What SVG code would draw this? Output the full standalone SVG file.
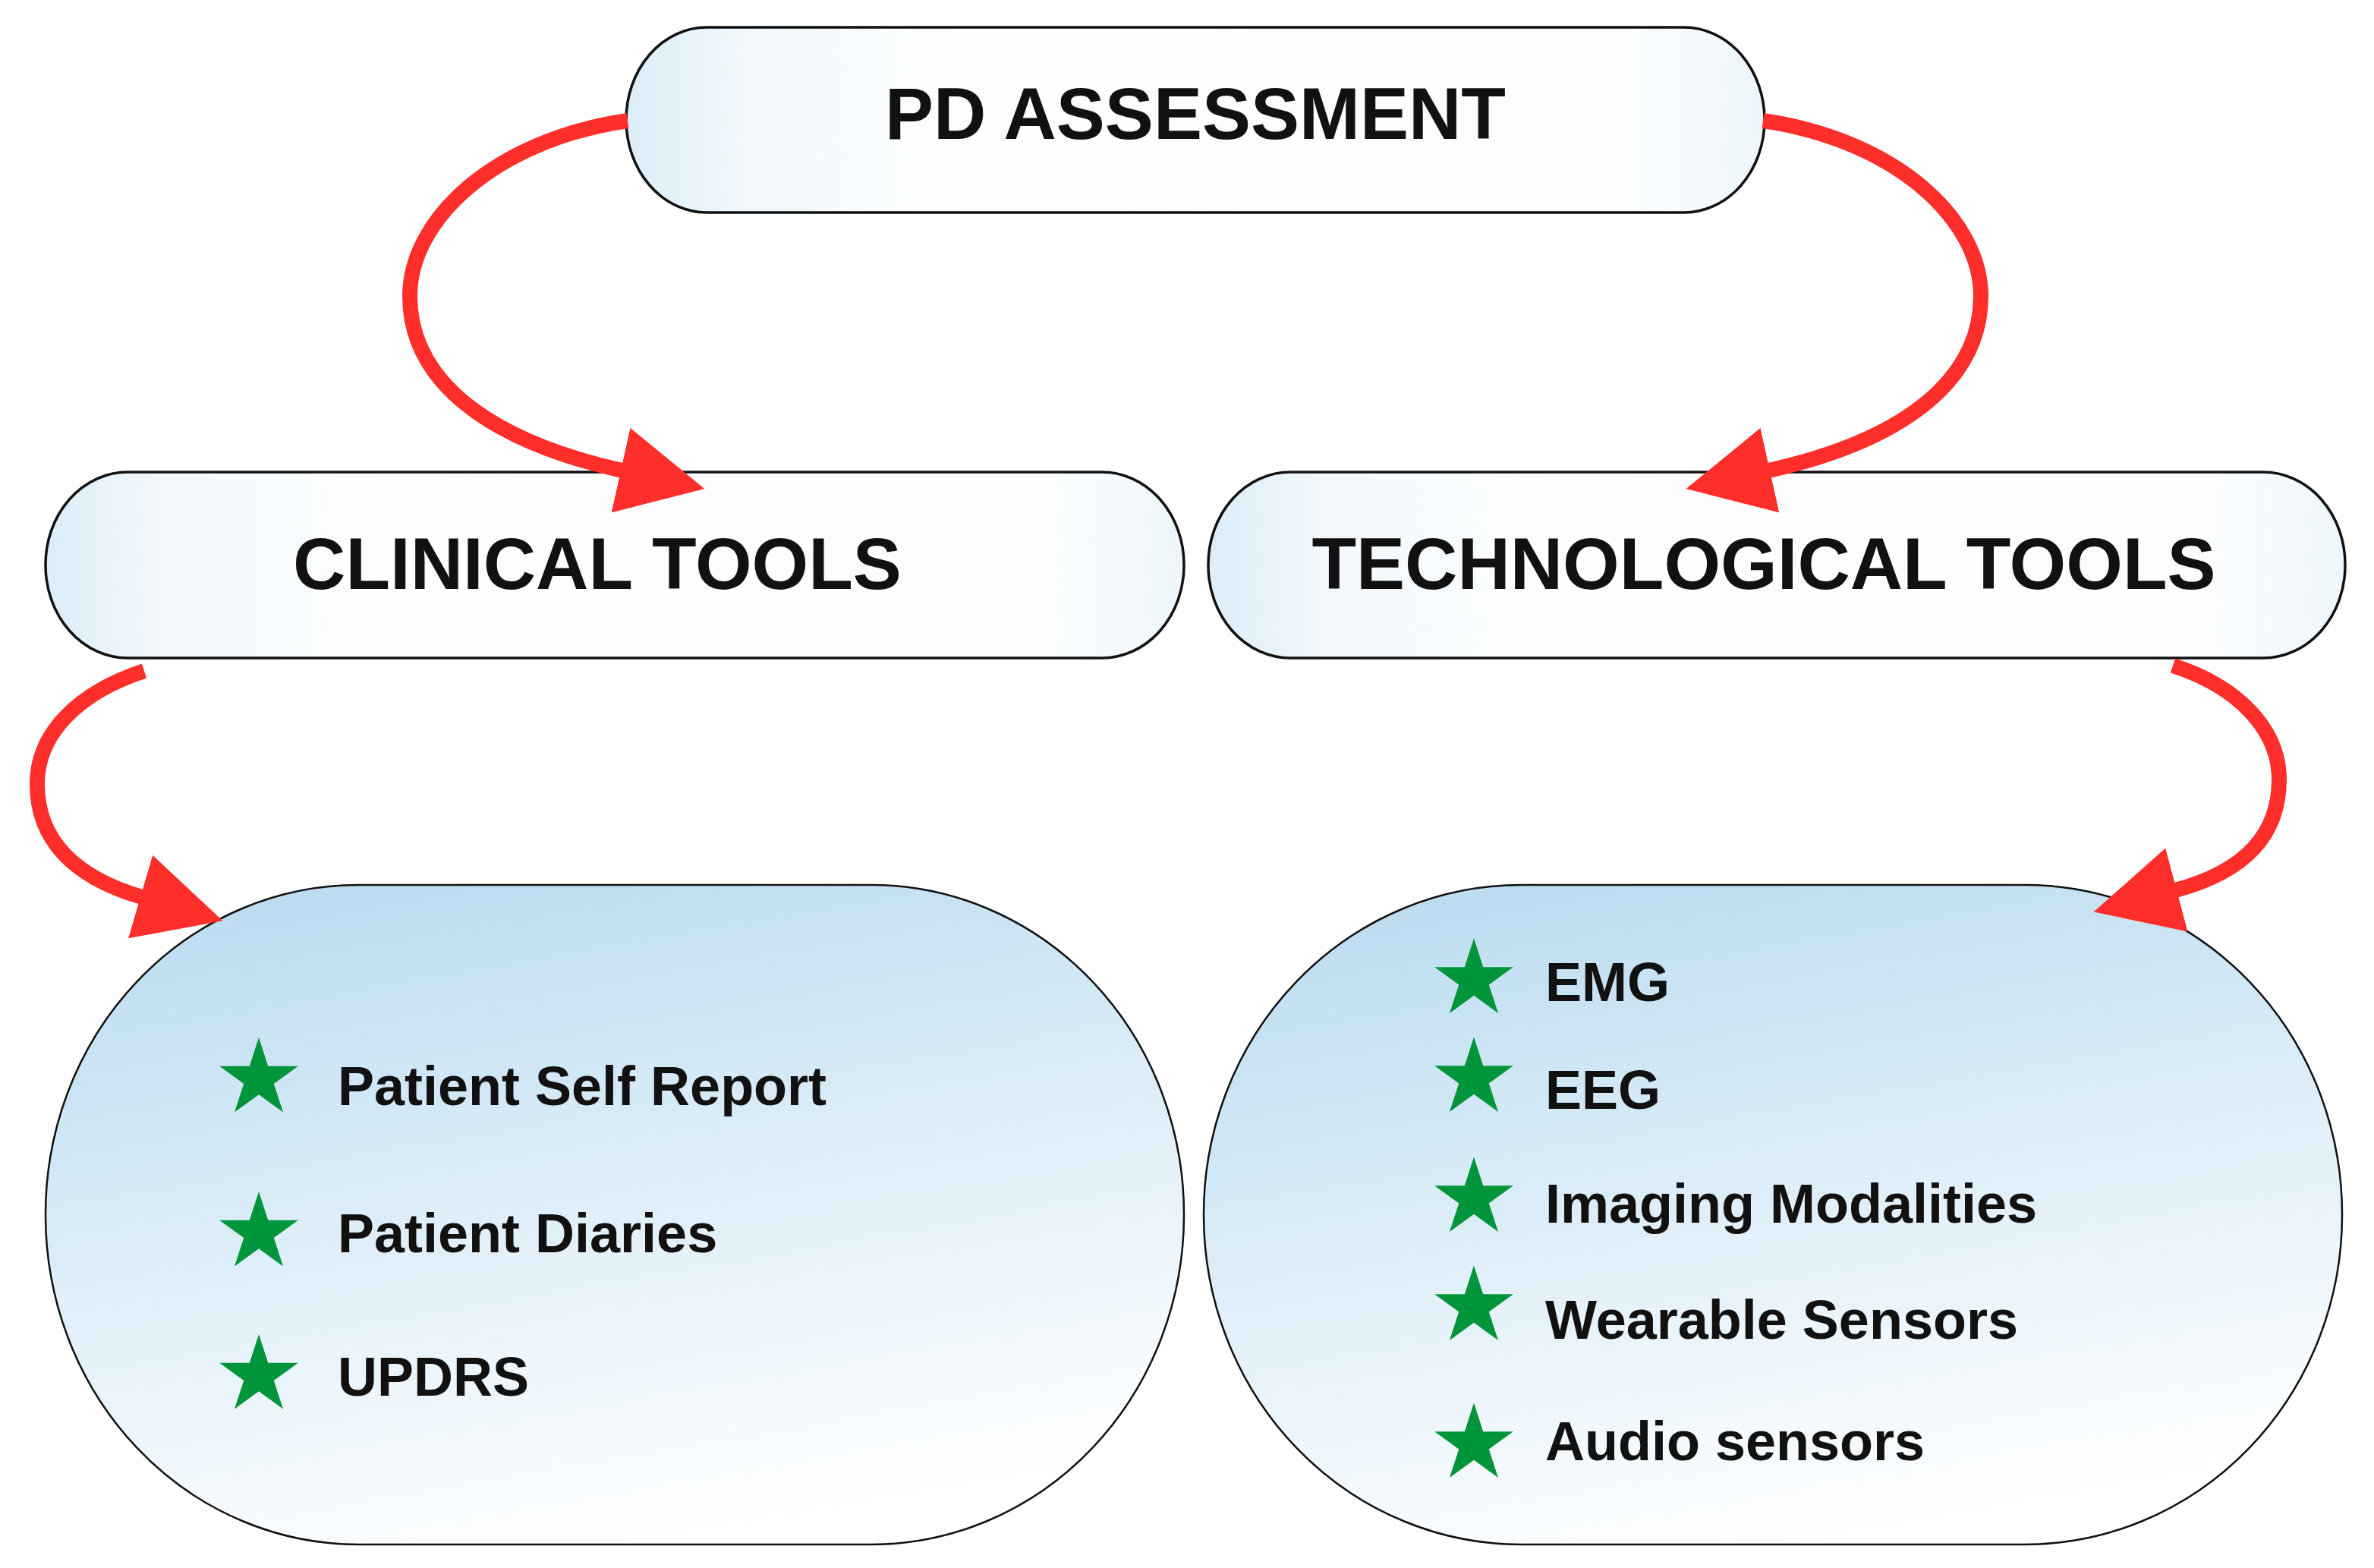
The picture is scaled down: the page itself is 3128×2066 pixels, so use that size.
<svg xmlns="http://www.w3.org/2000/svg" xmlns:xlink="http://www.w3.org/1999/xlink" width="3128" height="2066" viewBox="0 0 3128 2066">
<style>
.pill{stroke:#111;stroke-width:3.5;fill:url(#gTop)}
.big{stroke:#111;stroke-width:2.5;fill:url(#gBig)}
.title{font-family:"Liberation Sans",Arial,sans-serif;font-weight:bold;font-size:96px;fill:#111;text-anchor:middle}
.item{font-family:"Liberation Sans",Arial,sans-serif;font-weight:bold;font-size:72px;fill:#111}
.conn{fill:none;stroke:#fe2e2a;stroke-width:20;marker-end:url(#arrow)}
.star{fill:#00953a}
</style>
<defs>
<linearGradient id="gTop" x1="0" y1="0" x2="1" y2="0">
<stop offset="0" stop-color="#dbedf8"/>
<stop offset="0.1" stop-color="#f2f8fc"/>
<stop offset="0.3" stop-color="#fdfefe"/>
<stop offset="0.88" stop-color="#fbfdfe"/>
<stop offset="1" stop-color="#eef6fb"/>
</linearGradient>
<linearGradient id="gBig" x1="0.25" y1="0" x2="0.55" y2="1">
<stop offset="0" stop-color="#bcdcf0"/>
<stop offset="0.55" stop-color="#e2f0f9"/>
<stop offset="1" stop-color="#ffffff"/>
</linearGradient>
<marker id="arrow" markerUnits="userSpaceOnUse" markerWidth="113" markerHeight="114" viewBox="0 0 113 114" refX="2" refY="57" orient="auto">
<polygon points="0,0 113,57 0,114" fill="#fe2e2a"/>
</marker>
<polygon id="star" class="star" points="0,-54.5 12.23,-16.83 51.83,-16.84 19.78,6.43 32.03,44.09 0,20.8 -32.03,44.09 -19.78,6.43 -51.83,-16.84 -12.23,-16.83"/>
</defs>
<rect width="3128" height="2066" fill="#ffffff"/>

<g id="pd-assessment">
<rect class="pill" x="825" y="36" width="1500" height="244" rx="106" ry="122"/>
<text class="title" x="1575" y="183">PD ASSESSMENT</text>
</g>

<g id="clinical-tools">
<rect class="pill" x="60" y="622" width="1500" height="245" rx="108" ry="122"/>
<text class="title" x="787" y="776">CLINICAL TOOLS</text>
</g>

<g id="technological-tools">
<rect class="pill" x="1592" y="622" width="1498" height="245" rx="108" ry="122"/>
<text class="title" x="2324" y="776">TECHNOLOGICAL TOOLS</text>
</g>

<g id="clinical-list">
<rect class="big" x="60" y="1166" width="1500" height="869" rx="412" ry="434"/>
<use xlink:href="#star" x="341" y="1421.5"/>
<use xlink:href="#star" x="341" y="1624.5"/>
<use xlink:href="#star" x="341" y="1812.5"/>
<text class="item" x="445" y="1456">Patient Self Report</text>
<text class="item" x="445" y="1650">Patient Diaries</text>
<text class="item" x="445" y="1839">UPDRS</text>
</g>

<g id="technological-list">
<rect class="big" x="1586" y="1166" width="1500" height="869" rx="418" ry="434"/>
<use xlink:href="#star" x="1942" y="1291"/>
<use xlink:href="#star" x="1942" y="1421"/>
<use xlink:href="#star" x="1942" y="1579"/>
<use xlink:href="#star" x="1942" y="1722"/>
<use xlink:href="#star" x="1942" y="1903"/>
<text class="item" x="2036" y="1319">EMG</text>
<text class="item" x="2036" y="1461">EEG</text>
<text class="item" x="2036" y="1611">Imaging Modalities</text>
<text class="item" x="2036" y="1764">Wearable Sensors</text>
<text class="item" x="2036" y="1924">Audio sensors</text>
</g>

<g id="connectors">
<path class="conn" d="M827,159 C650,185 540,290 540,390 C540,500 640,580 820,620"/>
<path class="conn" d="M2323,159 C2500,185 2610,290 2610,390 C2610,500 2510,580 2330,620"/>
<path class="conn" d="M190,884 C105,912 49,965 49,1033 C49,1105 95,1155 187,1182"/>
<path class="conn" d="M2863,877 C2950,905 3003,962 3003,1027 C3003,1098 2960,1148 2866,1173"/>
</g>
</svg>
